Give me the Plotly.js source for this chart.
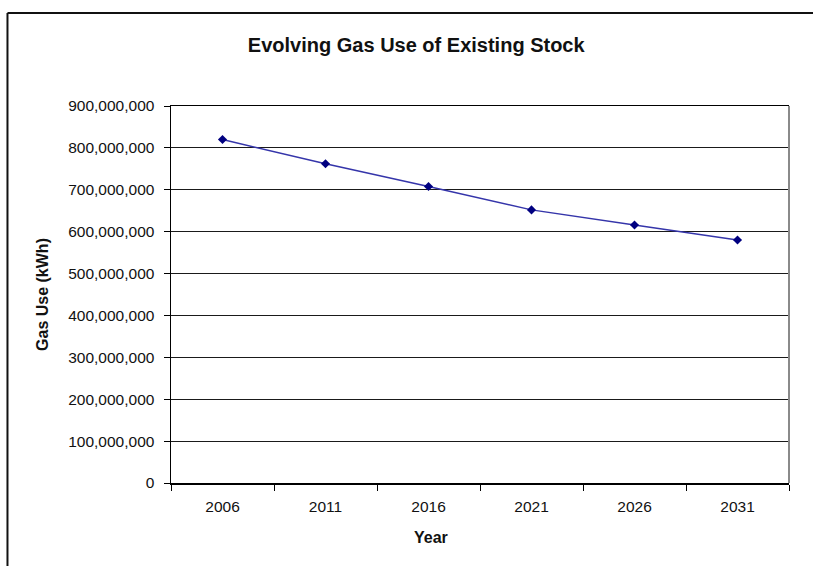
<!DOCTYPE html>
<html>
<head>
<meta charset="utf-8">
<script src="https://cdn.plot.ly/plotly-3.0.1.min.js"></script>
<style>
  html, body { margin: 0; padding: 0; background: #fff; }
  #chart { width: 813px; height: 566px; }
</style>
</head>
<body>
<div id="chart"></div>
<script>
// Gas use of the existing building stock, five-year steps
const years = ['2006', '2011', '2016', '2021', '2026', '2031'];
const gasUse = [820000000, 762000000, 708000000, 652000000, 616000000, 580000000];
const yTicks = [0, 100000000, 200000000, 300000000, 400000000, 500000000,
                600000000, 700000000, 800000000, 900000000];

const FONT = '"Liberation Sans", Arial, sans-serif';

const trace = {
  x: years,
  y: gasUse,
  type: 'scatter',
  mode: 'lines+markers',
  line: { color: '#3535aa', width: 1.5 },
  marker: { symbol: 'diamond', size: 7, color: '#000080', line: { width: 0 } },
  hoverinfo: 'x+y'
};

const layout = {
  width: 813,
  height: 566,
  margin: { l: 171, r: 24, t: 106, b: 83 },
  paper_bgcolor: '#ffffff',
  plot_bgcolor: '#ffffff',
  showlegend: false,
  font: { family: FONT, color: '#000', size: 15.5 },
  title: {
    text: 'Evolving Gas Use of Existing Stock',
    font: { family: FONT, size: 20, color: '#111', weight: 'bold' },
    xref: 'container', yref: 'container',
    x: 0.512, y: 0.921, xanchor: 'center', yanchor: 'middle'
  },
  xaxis: {
    type: 'category',
    range: [-0.5, 5.5],
    tickson: 'boundaries',
    ticks: 'outside',
    ticklen: 6,
    tickwidth: 1,
    tickcolor: '#000',
    ticklabelstandoff: 9,
    showline: true,
    mirror: true,
    linecolor: '#000',
    linewidth: 1.5,
    showgrid: false,
    zeroline: false,
    tickfont: { family: FONT, size: 15.5, color: '#111' },
    fixedrange: true
  },
  yaxis: {
    range: [0, 900000000],
    tickvals: yTicks,
    tickformat: ',d',
    ticks: 'outside',
    ticklen: 6,
    tickwidth: 1,
    tickcolor: '#000',
    ticklabelstandoff: 6,
    showline: true,
    linecolor: '#000',
    linewidth: 1.5,
    showgrid: true,
    gridcolor: '#1a1a1a',
    gridwidth: 1.2,
    zeroline: false,
    tickfont: { family: FONT, size: 15.5, color: '#111' },
    fixedrange: true
  },
  annotations: [
    {
      text: 'Gas Use (kWh)',
      xref: 'paper', yref: 'paper',
      x: -0.208, y: 0.50,
      xanchor: 'center', yanchor: 'middle',
      textangle: -90,
      showarrow: false,
      font: { family: FONT, size: 16, color: '#111', weight: 'bold' }
    },
    {
      text: 'Year',
      xref: 'paper', yref: 'paper',
      x: 0.421, y: -0.145,
      xanchor: 'center', yanchor: 'middle',
      showarrow: false,
      font: { family: FONT, size: 16, color: '#111', weight: 'bold' }
    }
  ],
  shapes: [
    // right edge of the plot area
    { type: 'line', xref: 'paper', yref: 'paper', x0: 1, x1: 1, y0: 0, y1: 1,
      line: { color: '#8a8a8a', width: 2 } },
    // outer chart frame (left and top edges)
    { type: 'line', xref: 'paper', yref: 'paper', x0: -0.2646, x1: -0.2646, y0: 1.2467, y1: -0.3,
      line: { color: '#111', width: 2 } },
    { type: 'line', xref: 'paper', yref: 'paper', x0: -0.2646, x1: 1.2, y0: 1.2467, y1: 1.2467,
      line: { color: '#111', width: 2 } }
  ]
};

Plotly.newPlot('chart', [trace], layout, { displayModeBar: false, staticPlot: true });
</script>
</body>
</html>
